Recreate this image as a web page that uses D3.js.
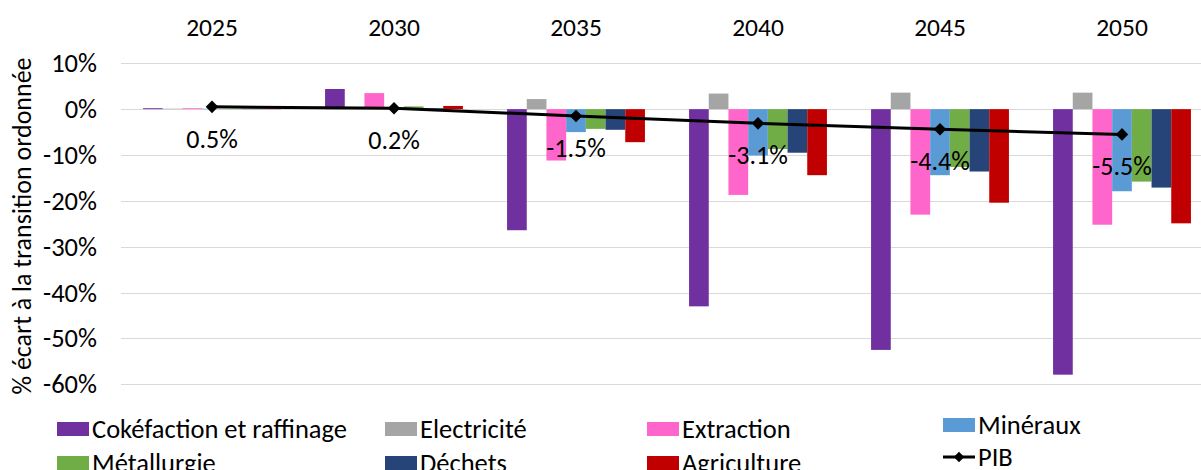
<!DOCTYPE html>
<html>
<head>
<meta charset="utf-8">
<script src="https://cdn.jsdelivr.net/npm/d3@7"></script>
<style>
  body { margin: 0; background: #fff; }
  svg { display: block; font-family: Carlito, Calibri, Lato, sans-serif; }
</style>
</head>
<body>
<svg id="chart" width="1201" height="470"></svg>
<script>
// years on the (top) category axis
const years = ["2025", "2030", "2035", "2040", "2045", "2050"];

// sector series, % gap vs orderly transition
const seriesNames = ["Cokéfaction et raffinage", "Electricité", "Extraction", "Minéraux", "Métallurgie", "Déchets", "Agriculture"];
const cokefaction = [0.2, 4.4, -26.4, -43.0, -52.5, -57.9];
const electricite = [0.1, 0.1, 2.2, 3.4, 3.6, 3.6];
const extraction = [0.2, 3.5, -11.2, -18.7, -23.0, -25.2];
const mineraux = [0.1, 0.2, -5.0, -10.1, -14.4, -17.9];
const metallurgie = [0.1, 0.6, -4.3, -8.7, -12.6, -15.8];
const dechets = [0.1, 0.2, -4.5, -9.5, -13.6, -17.1];
const agriculture = [0.1, 0.7, -7.2, -14.4, -20.4, -24.9];

// GDP line
const pib = [0.5, 0.2, -1.5, -3.1, -4.4, -5.5];
const pibLabels = ["0.5%", "0.2%", "-1.5%", "-3.1%", "-4.4%", "-5.5%"];

const yTicks = [10, 0, -10, -20, -30, -40, -50, -60];

const colors = ["#7030A0", "#A5A5A5", "#FF66CC", "#5B9BD5", "#70AD47", "#264478", "#C00000"];
const seriesValues = [cokefaction, electricite, extraction, mineraux, metallurgie, dechets, agriculture];

const fontSize = "26.5px"; // ~20pt, as in the source chart

const svg = d3.select("#chart");

const x = d3.scaleBand()
    .domain(years)
    .range([121, 1213])
    .padding(0);

const xSub = d3.scaleBand()
    .domain(seriesNames)
    .range([0, x.bandwidth()])
    .paddingInner(0)
    .paddingOuter(1.12);

const y = d3.scaleLinear()
    .domain([-60, 10])
    .range([384.3, 63.3]);

// gridlines
svg.append("g")
    .selectAll("line")
    .data(yTicks)
    .enter()
    .append("line")
    .attr("x1", 121)
    .attr("x2", 1213)
    .attr("y1", d => Math.round(y(d)) + 0.5)
    .attr("y2", d => Math.round(y(d)) + 0.5)
    .attr("stroke", "#d9d9d9")
    .attr("stroke-width", 1);

// y tick labels
svg.append("g")
    .selectAll("text")
    .data(yTicks)
    .enter()
    .append("text")
    .attr("x", 97)
    .attr("y", d => y(d))
    .attr("dy", "0.34em")
    .attr("text-anchor", "end")
    .style("font-size", fontSize)
    .style("fill", "#000")
    .text(d => d + "%");

// category labels on top
svg.append("g")
    .selectAll("text")
    .data(years)
    .enter()
    .append("text")
    .attr("x", d => x(d) + x.bandwidth() / 2)
    .attr("y", 36)
    .attr("text-anchor", "middle")
    .style("font-size", "25.5px")
    .style("fill", "#000")
    .text(d => d);

// y axis title
svg.append("text")
    .attr("transform", "translate(31,226) rotate(-90)")
    .attr("text-anchor", "middle")
    .style("font-size", "26px")
    .style("fill", "#000")
    .text("% écart à la transition ordonnée");

// bars
const barData = [];
seriesNames.forEach((name, i) => {
    years.forEach((yr, j) => {
        barData.push({ name: name, year: yr, value: seriesValues[i][j], color: colors[i] });
    });
});

svg.append("g")
    .selectAll("rect")
    .data(barData)
    .enter()
    .append("rect")
    .attr("x", d => x(d.year) + xSub(d.name))
    .attr("y", d => Math.min(y(d.value), y(0)))
    .attr("width", xSub.bandwidth())
    .attr("height", d => Math.abs(y(d.value) - y(0)))
    .attr("fill", d => d.color);

// PIB line
const pibData = years.map((yr, i) => ({ year: yr, value: pib[i], label: pibLabels[i] }));

svg.append("path")
    .datum(pibData)
    .attr("fill", "none")
    .attr("stroke", "#000")
    .attr("stroke-width", 3)
    .attr("d", d3.line()
        .x(d => x(d.year) + x.bandwidth() / 2)
        .y(d => y(d.value)));

svg.append("g")
    .selectAll("path")
    .data(pibData)
    .enter()
    .append("path")
    .attr("d", d3.symbol(d3.symbolDiamond2, 100))
    .attr("transform", d => `translate(${x(d.year) + x.bandwidth() / 2},${y(d.value)})`)
    .attr("fill", "#000");

// PIB data labels
svg.append("g")
    .selectAll("text")
    .data(pibData)
    .enter()
    .append("text")
    .attr("x", d => x(d.year) + x.bandwidth() / 2)
    .attr("y", d => y(d.value) + 32)
    .attr("dy", "0.34em")
    .attr("text-anchor", "middle")
    .style("font-size", "26px")
    .style("fill", "#000")
    .text(d => d.label);

// legend
const legendItems = [
    { name: "Cokéfaction et raffinage", color: colors[0], col: 0, row: 0 },
    { name: "Electricité", color: colors[1], col: 1, row: 0 },
    { name: "Extraction", color: colors[2], col: 2, row: 0 },
    { name: "Minéraux", color: colors[3], col: 3, row: 0 },
    { name: "Métallurgie", color: colors[4], col: 0, row: 1 },
    { name: "Déchets", color: colors[5], col: 1, row: 1 },
    { name: "Agriculture", color: colors[6], col: 2, row: 1 },
    { name: "PIB", color: null, col: 3, row: 1 }
];
const legendCols = [57, 385, 647, 943];
const legendRows = [429, 463];

// last column sits a bit higher in the source legend
const legendY = d => legendRows[d.row] - (d.col === 3 ? (d.row === 0 ? 4 : 6) : 0);

const legend = svg.append("g")
    .selectAll("g")
    .data(legendItems)
    .enter()
    .append("g")
    .attr("transform", d => `translate(${legendCols[d.col]},${legendY(d)})`);

legend.filter(d => d.color)
    .append("rect")
    .attr("x", 0)
    .attr("y", -7)
    .attr("width", 32)
    .attr("height", 14)
    .attr("fill", d => d.color);

const pibLegend = legend.filter(d => !d.color);
pibLegend.append("line")
    .attr("x1", 0).attr("x2", 32)
    .attr("y1", 0).attr("y2", 0)
    .attr("stroke", "#000")
    .attr("stroke-width", 3);
pibLegend.append("path")
    .attr("d", d3.symbol(d3.symbolDiamond2, 70))
    .attr("transform", "translate(16,0)")
    .attr("fill", "#000");

legend.append("text")
    .attr("x", 35)
    .attr("y", 0)
    .attr("dy", "0.34em")
    .style("font-size", fontSize)
    .style("fill", "#000")
    .text(d => d.name);
</script>
</body>
</html>
